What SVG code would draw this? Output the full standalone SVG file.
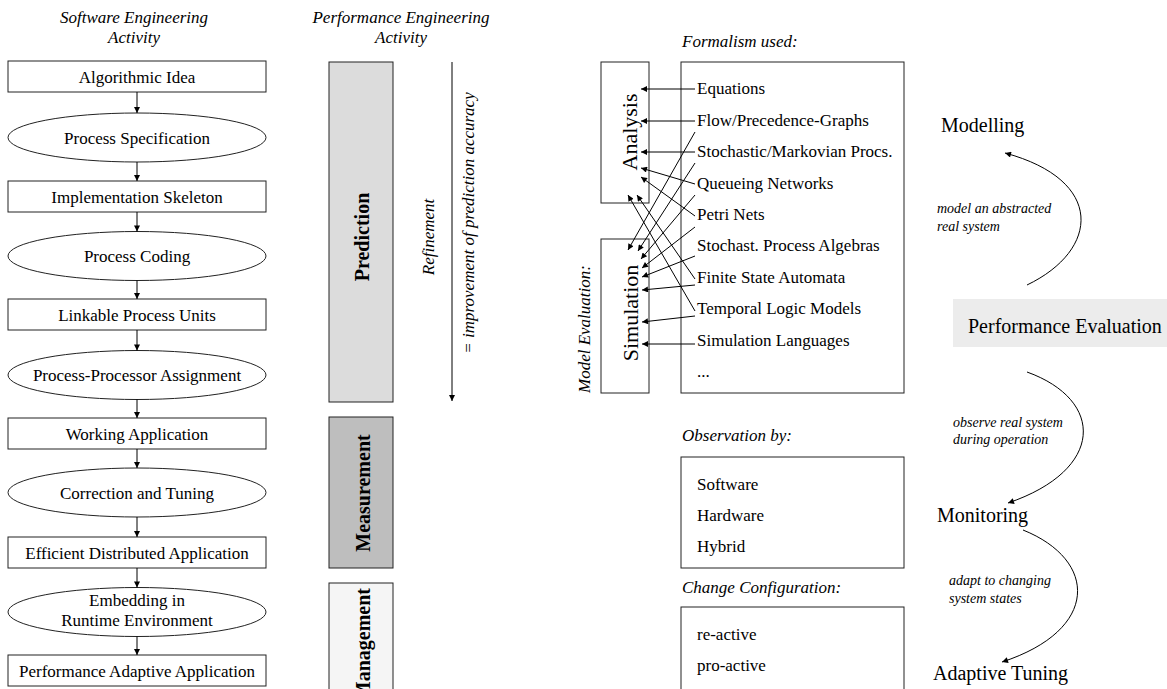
<svg xmlns="http://www.w3.org/2000/svg" width="1167" height="689" viewBox="0 0 1167 689">
<defs>
<style>
.box{fill:#fff;stroke:#222;stroke-width:1}
.t{font-family:"Liberation Serif","Times New Roman",serif;font-size:17px;fill:#000}
.c{text-anchor:middle}
.i{font-style:italic}
.b{font-weight:bold}
.big{font-size:20px}
.sm{font-size:14px}
.rot{font-size:22px}
.conn{stroke:#000;stroke-width:1;fill:none}
</style>
<marker id="ah" viewBox="0 0 10 10" refX="10" refY="5" markerUnits="userSpaceOnUse" markerWidth="8" markerHeight="6" orient="auto">
<path d="M0,0 L10,5 L0,10 z" fill="#000"/>
</marker>
<marker id="ah2" viewBox="0 0 10 10" refX="10" refY="5" markerUnits="userSpaceOnUse" markerWidth="9" markerHeight="6" orient="auto">
<path d="M0,0 L10,5 L0,10 z" fill="#000"/>
</marker>
</defs>
<rect width="1167" height="689" fill="#fff"/>

<!-- headers -->
<g id="header-se">
<text class="t i c" x="134" y="23">Software Engineering</text>
<text class="t i c" x="134" y="43">Activity</text>
</g>
<g id="header-pe">
<text class="t i c" x="401" y="23">Performance Engineering</text>
<text class="t i c" x="401" y="43">Activity</text>
</g>

<!-- left column -->
<g id="n-algorithmic-idea"><rect class="box" x="8" y="61" width="258" height="31"/><text class="t c" x="137" y="82.5">Algorithmic Idea</text></g>
<g id="n-process-spec"><ellipse class="box" cx="137" cy="137.5" rx="129" ry="24.5"/><text class="t c" x="137" y="143.5">Process Specification</text></g>
<g id="n-impl-skeleton"><rect class="box" x="8" y="181" width="258" height="31"/><text class="t c" x="137" y="202.5">Implementation Skeleton</text></g>
<g id="n-process-coding"><ellipse class="box" cx="137" cy="256" rx="129" ry="24.5"/><text class="t c" x="137" y="262">Process Coding</text></g>
<g id="n-linkable"><rect class="box" x="8" y="299" width="258" height="31"/><text class="t c" x="137" y="320.5">Linkable Process Units</text></g>
<g id="n-assignment"><ellipse class="box" cx="137" cy="375" rx="129" ry="24.5"/><text class="t c" x="137" y="381">Process-Processor Assignment</text></g>
<g id="n-working"><rect class="box" x="8" y="418" width="258" height="31"/><text class="t c" x="137" y="439.5">Working Application</text></g>
<g id="n-correction"><ellipse class="box" cx="137" cy="492.5" rx="129" ry="24.5"/><text class="t c" x="137" y="498.5">Correction and Tuning</text></g>
<g id="n-efficient"><rect class="box" x="8" y="537" width="258" height="31"/><text class="t c" x="137" y="558.5">Efficient Distributed Application</text></g>
<g id="n-embedding"><ellipse class="box" cx="137" cy="612" rx="129" ry="24.5"/><text class="t c" x="137" y="606">Embedding in</text><text class="t c" x="137" y="626">Runtime Environment</text></g>
<g id="n-adaptive-app"><rect class="box" x="8" y="655" width="258" height="31"/><text class="t c" x="137" y="676.5">Performance Adaptive Application</text></g>

<!-- middle column -->
<g id="n-prediction"><rect x="329" y="62" width="64" height="340" fill="#dcdcdc" stroke="#222"/><text class="t b big c" transform="translate(369,237) rotate(-90)">Prediction</text></g>
<g id="n-measurement"><rect x="329" y="417" width="64" height="151" fill="#bebebe" stroke="#222"/><text class="t b big c" transform="translate(370,493) rotate(-90)">Measurement</text></g>
<g id="n-management"><rect x="329" y="583" width="64" height="130" fill="#f5f5f5" stroke="#222"/><text class="t b big" text-anchor="end" transform="translate(370,588) rotate(-90)">Management</text></g>
<g id="refinement">
<text class="t i c" font-size="18" transform="translate(434,237) rotate(-90)">Refinement</text>
<text class="t i c" font-size="16.5" transform="translate(474,223) rotate(-90)">= improvement of prediction accuracy</text>
</g>

<!-- model evaluation -->
<g id="model-evaluation"><text class="t i" font-size="16.5" transform="translate(590,393) rotate(-90)">Model Evaluation:</text></g>
<g id="n-analysis"><rect class="box" x="601" y="62" width="48" height="141"/><text class="t rot c" transform="translate(637,132) rotate(-90)">Analysis</text></g>
<g id="n-simulation"><rect class="box" x="601" y="239" width="48" height="154"/><text class="t rot c" transform="translate(638,313) rotate(-90)">Simulation</text></g>

<g id="n-formalism">
<text class="t i" x="682" y="47">Formalism used:</text>
<rect class="box" x="681" y="62" width="223" height="331"/>
<text class="t" x="697" y="94">Equations</text>
<text class="t" x="697" y="126">Flow/Precedence-Graphs</text>
<text class="t" x="697" y="157">Stochastic/Markovian Procs.</text>
<text class="t" x="697" y="189">Queueing Networks</text>
<text class="t" x="697" y="220">Petri Nets</text>
<text class="t" x="697" y="251">Stochast. Process Algebras</text>
<text class="t" x="697" y="283">Finite State Automata</text>
<text class="t" x="697" y="314">Temporal Logic Models</text>
<text class="t" x="697" y="346">Simulation Languages</text>
<text class="t" x="697" y="377">...</text>
</g>

<g id="n-observation">
<text class="t i" x="682" y="441">Observation by:</text>
<rect class="box" x="681" y="457" width="223" height="111"/>
<text class="t" x="697" y="490">Software</text>
<text class="t" x="697" y="521">Hardware</text>
<text class="t" x="697" y="552">Hybrid</text>
</g>
<g id="n-change">
<text class="t i" x="682" y="593">Change Configuration:</text>
<rect class="box" x="681" y="607" width="223" height="110"/>
<text class="t" x="697" y="640">re-active</text>
<text class="t" x="697" y="671">pro-active</text>
</g>

<!-- right cycle -->
<g id="n-modelling"><text class="t big" x="941" y="132">Modelling</text></g>
<g id="n-perf-eval"><rect x="953" y="299" width="214" height="48" fill="#ececec"/><text class="t big" x="968" y="333">Performance Evaluation</text></g>
<g id="n-monitoring"><text class="t big" x="937" y="522">Monitoring</text></g>
<g id="n-adaptive-tuning"><text class="t big" x="933" y="680">Adaptive Tuning</text></g>
<g id="labels-cycle">
<text class="t i sm" x="937" y="213">model an abstracted</text>
<text class="t i sm" x="937" y="231">real system</text>
<text class="t i sm" x="953" y="427">observe real system</text>
<text class="t i sm" x="953" y="444">during operation</text>
<text class="t i sm" x="949" y="585">adapt to changing</text>
<text class="t i sm" x="949" y="603">system states</text>
</g>

<g id="connectors">
<line class="conn" x1="137" y1="92" x2="137" y2="113" marker-end="url(#ah)"/>
<line class="conn" x1="137" y1="162" x2="137" y2="181" marker-end="url(#ah)"/>
<line class="conn" x1="137" y1="212" x2="137" y2="231.5" marker-end="url(#ah)"/>
<line class="conn" x1="137" y1="280.5" x2="137" y2="299" marker-end="url(#ah)"/>
<line class="conn" x1="137" y1="330" x2="137" y2="350.5" marker-end="url(#ah)"/>
<line class="conn" x1="137" y1="399.5" x2="137" y2="418" marker-end="url(#ah)"/>
<line class="conn" x1="137" y1="449" x2="137" y2="468" marker-end="url(#ah)"/>
<line class="conn" x1="137" y1="517" x2="137" y2="537" marker-end="url(#ah)"/>
<line class="conn" x1="137" y1="568" x2="137" y2="587.5" marker-end="url(#ah)"/>
<line class="conn" x1="137" y1="636.5" x2="137" y2="655" marker-end="url(#ah)"/>

<line class="conn" x1="452" y1="62" x2="452" y2="401" marker-end="url(#ah)"/>

<line class="conn" x1="695" y1="89" x2="641" y2="89" marker-end="url(#ah2)"/>
<line class="conn" x1="695" y1="121" x2="641" y2="121" marker-end="url(#ah2)"/>
<line class="conn" x1="695" y1="152" x2="641" y2="152" marker-end="url(#ah2)"/>
<line class="conn" x1="695" y1="184" x2="641" y2="168" marker-end="url(#ah2)"/>
<line class="conn" x1="695" y1="216" x2="641" y2="177" marker-end="url(#ah2)"/>
<line class="conn" x1="695" y1="279" x2="637" y2="195" marker-end="url(#ah2)"/>
<line class="conn" x1="695" y1="311" x2="628" y2="195" marker-end="url(#ah2)"/>

<line class="conn" x1="695" y1="132" x2="628" y2="250" marker-end="url(#ah2)"/>
<line class="conn" x1="695" y1="163" x2="638" y2="251" marker-end="url(#ah2)"/>
<line class="conn" x1="695" y1="195" x2="641" y2="259" marker-end="url(#ah2)"/>
<line class="conn" x1="695" y1="227" x2="642" y2="268" marker-end="url(#ah2)"/>
<line class="conn" x1="695" y1="256" x2="642" y2="277" marker-end="url(#ah2)"/>
<line class="conn" x1="695" y1="285" x2="642" y2="290" marker-end="url(#ah2)"/>
<line class="conn" x1="695" y1="316" x2="642" y2="322" marker-end="url(#ah2)"/>
<line class="conn" x1="695" y1="344" x2="642" y2="344" marker-end="url(#ah2)"/>

<path class="conn" d="M1027,285 C1100,250 1105,180 1005,153" marker-end="url(#ah2)"/>
<path class="conn" d="M1027,372 C1105,400 1105,470 1008,503" marker-end="url(#ah2)"/>
<path class="conn" d="M1023,530 C1098,560 1100,630 1002,662" marker-end="url(#ah2)"/>
</g>
</svg>
